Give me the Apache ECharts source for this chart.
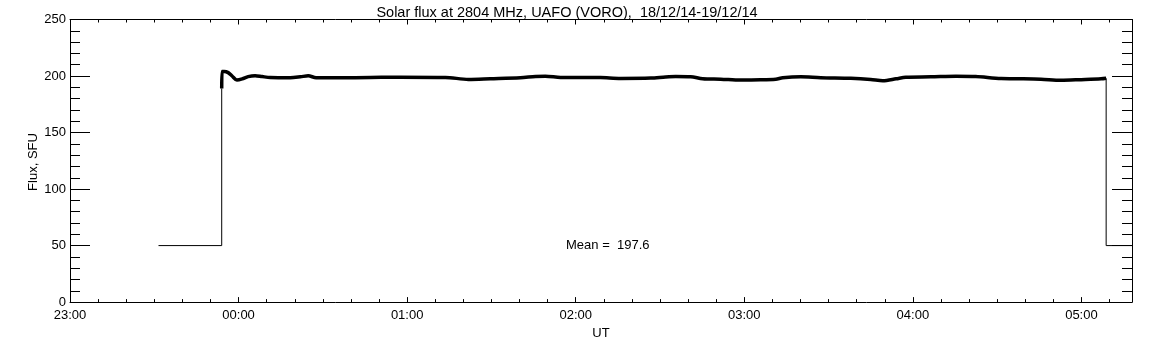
<!DOCTYPE html>
<html>
<head>
<meta charset="utf-8">
<script src="https://cdn.jsdelivr.net/npm/echarts@6/dist/echarts.min.js"></script>
<style>
  html, body { margin: 0; padding: 0; background: #fff; }
  #chart { width: 1152px; height: 345px; }
</style>
</head>
<body>
<div id="chart"></div>
<script>
// Time values are minutes after 23:00 UT (18/12/14)
const preTimes   = [31.5, 54.0, 54.0];
const preValues  = [50, 50, 189];

const fluxTimes  = [54.0, 54.1, 54.9, 56.3, 57.7, 59.4, 61.3, 63.4, 65.9, 68.4, 71.3, 78.4, 82.0, 84.8, 87.6, 96.2, 106.9, 117.6, 133.6, 141.8, 149.6, 160.3, 165.7, 169.2, 174.6, 188.8, 196.0, 206.7, 212.0, 215.6, 220.9, 225.2, 231.6, 238.7, 245.8, 251.2, 253.7, 260.1, 267.2, 277.9, 285.0, 289.3, 294.0, 297.5, 306.4, 315.3, 322.4, 331.4, 338.5, 345.6, 352.7, 359.9, 367.0, 368.8];
const fluxValues = [189, 204, 204, 203, 200, 196.5, 197.5, 199.5, 200.3, 199.5, 198.7, 198.5, 199.3, 200.2, 198.5, 198.5, 198.7, 199.0, 198.8, 197.0, 197.6, 198.5, 199.6, 199.8, 198.8, 198.6, 197.9, 198.2, 199.2, 199.6, 199.4, 197.6, 197.2, 196.4, 196.6, 197.2, 198.5, 199.3, 198.5, 198.0, 197.0, 195.8, 197.5, 199.0, 199.3, 199.8, 199.5, 197.8, 197.6, 197.2, 196.2, 196.8, 197.5, 198.0];

const postTimes  = [368.8, 368.8, 378];
const postValues = [198, 50, 50];

const yTicks = [0, 50, 100, 150, 200, 250];
const xMin = 0, xMax = 378, xInterval = 60;
const titleText = 'Solar flux at 2804 MHz, UAFO (VORO),  18/12/14-19/12/14';
const meanText = 'Mean =  197.6';
const yName = 'Flux, SFU';

const zip = (a, b) => a.map((v, i) => [v, b[i]]);
const fmtTime = v => {
  const h = (23 + Math.floor(v / 60)) % 24;
  const m = Math.round(v % 60);
  return String(h).padStart(2, '0') + ':' + String(m).padStart(2, '0');
};

const FONT = 'Liberation Sans, Arial, sans-serif';
const chart = echarts.init(document.getElementById('chart'), null, { renderer: 'canvas' });

const xCommon = {
  type: 'value', min: xMin, max: xMax, interval: xInterval,
  axisLine: { show: true, onZero: false, lineStyle: { color: '#000', width: 1 } },
  axisTick: { show: true, inside: true, length: 5, lineStyle: { color: '#000' } },
  minorTick: { show: true, splitNumber: 6, length: 3, lineStyle: { color: '#000' } },
  splitLine: { show: false }
};
const yCommon = {
  type: 'value', min: 0, max: 250, interval: 50,
  axisLine: { show: true, onZero: false, lineStyle: { color: '#000', width: 1 } },
  axisTick: { show: true, inside: true, length: 20, lineStyle: { color: '#000' } },
  minorTick: { show: true, splitNumber: 5, length: 10, lineStyle: { color: '#000' } },
  splitLine: { show: false }
};

chart.setOption({
  animation: false,
  backgroundColor: '#fff',
  grid: { left: 70, right: 20, top: 19.5, bottom: 41, containLabel: false },
  title: {
    text: titleText, left: 562, top: 0, textAlign: 'center',
    textStyle: { fontFamily: FONT, fontSize: 14.5, fontWeight: 'normal', color: '#000' }
  },
  xAxis: [
    Object.assign({}, xCommon, {
      position: 'bottom',
      name: 'UT', nameLocation: 'middle', nameGap: 21,
      nameTextStyle: { fontFamily: FONT, fontSize: 13, color: '#000' },
      axisLabel: { show: true, margin: 7, fontFamily: FONT, fontSize: 13, color: '#000',
        showMaxLabel: false, formatter: fmtTime }
    }),
    Object.assign({}, xCommon, { position: 'top', axisLabel: { show: false } })
  ],
  yAxis: [
    Object.assign({}, yCommon, {
      position: 'left',
      axisLabel: { show: true, margin: 4, fontFamily: FONT, fontSize: 13, color: '#000',
        formatter: v => (yTicks.indexOf(v) >= 0 ? String(v) : '') }
    }),
    Object.assign({}, yCommon, { position: 'right', axisLabel: { show: false } })
  ],
  series: [
    { type: 'line', data: zip(preTimes, preValues), showSymbol: false, symbol: 'none',
      lineStyle: { color: '#000', width: 1 }, xAxisIndex: 0, yAxisIndex: 0 },
    { type: 'line', data: zip(fluxTimes, fluxValues), showSymbol: false, symbol: 'none', smooth: 0.3,
      lineStyle: { color: '#000', width: 3.5 }, xAxisIndex: 0, yAxisIndex: 0 },
    { type: 'line', data: zip(postTimes, postValues), showSymbol: false, symbol: 'none',
      lineStyle: { color: '#000', width: 1 }, xAxisIndex: 0, yAxisIndex: 0 }
  ],
  graphic: [
    { type: 'text', left: 566, top: 239,
      style: { text: meanText, fontFamily: FONT, fontSize: 13, fill: '#000' } },
    { type: 'text', x: 33, y: 162, rotation: Math.PI / 2,
      style: { text: yName, fontFamily: FONT, fontSize: 13, fill: '#000',
        align: 'center', verticalAlign: 'middle' } }
  ]
});
</script>
</body>
</html>
